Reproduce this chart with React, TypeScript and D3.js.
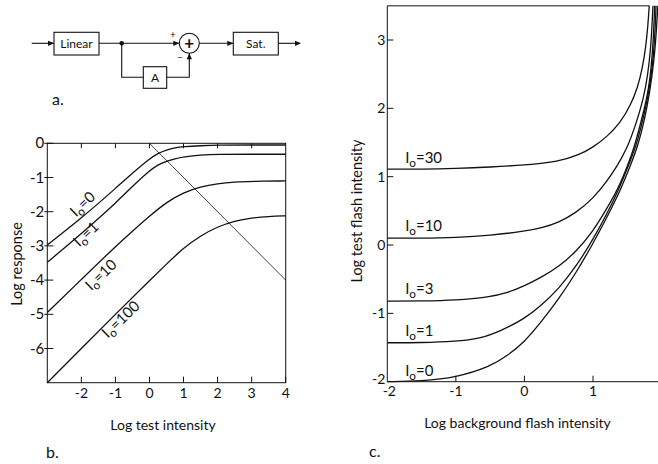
import React from "react";
import * as d3 from "d3";

type Pt = [number, number];

// ---------- Panel b data (log test intensity vs log response) ----------
const bTicksX = [-2, -1, 0, 1, 2, 3, 4];
const bTopTicks = [-2, -1, 0, 1, 2, 3];
const bTicksY = [0, -1, -2, -3, -4, -5, -6];
const bLevels = ["0", "1", "10", "100"];
const bIo0: Pt[] = [[-3, -2.97], [-2.5, -2.58], [-2, -2.18], [-1.5, -1.76], [-1, -1.32], [-0.5, -0.87], [0, -0.45], [0.25, -0.29], [0.5, -0.19], [0.75, -0.13], [1, -0.1], [1.5, -0.07], [2, -0.05], [3, -0.05], [4, -0.05]];
const bIo1: Pt[] = [[-3, -3.48], [-2.5, -3.06], [-2, -2.64], [-1.5, -2.2], [-1, -1.75], [-0.5, -1.26], [0, -0.8], [0.25, -0.63], [0.5, -0.52], [0.75, -0.45], [1, -0.4], [1.5, -0.34], [2, -0.32], [3, -0.32], [4, -0.32]];
const bIo10: Pt[] = [[-3, -4.95], [-2, -3.98], [-1, -3.02], [-0.5, -2.57], [0, -2.13], [0.5, -1.72], [1, -1.44], [1.5, -1.27], [2, -1.18], [2.5, -1.13], [3, -1.11], [4, -1.1]];
const bIo100: Pt[] = [[-3, -7], [-2, -6], [-1, -5], [0, -4.02], [0.5, -3.53], [1, -3.06], [1.5, -2.7], [2, -2.44], [2.5, -2.27], [3, -2.18], [3.5, -2.14], [4, -2.12]];
const bDiagonal: Pt[] = [[0, 0], [4, -4]];
const bLabelAnchors: Pt[] = [[-1.94, -1.8], [-1.84, -2.68], [-1.4, -3.87], [-0.82, -5.17]];

// ---------- Panel c data (log background vs log test flash intensity) ----------
const cTicksX = [-2, -1, 0, 1];
const cTicksY = [-2, -1, 0, 1, 2, 3];
const cLevels = ["30", "10", "3", "1", "0"];
const cIo30: Pt[] = [[-2, 1.11], [-1.5, 1.11], [-1, 1.12], [-0.5, 1.14], [0, 1.17], [0.5, 1.22], [0.8, 1.32], [1, 1.43], [1.2, 1.58], [1.4, 1.79], [1.55, 2.05], [1.65, 2.3], [1.72, 2.58], [1.77, 2.9], [1.8, 3.2], [1.82, 3.5]];
const cIo10: Pt[] = [[-2, 0.1], [-1.5, 0.1], [-1, 0.11], [-0.5, 0.14], [0, 0.2], [0.25, 0.25], [0.5, 0.33], [0.75, 0.47], [1, 0.68], [1.2, 0.93], [1.35, 1.15], [1.5, 1.42], [1.62, 1.75], [1.74, 2.15], [1.8, 2.5], [1.84, 2.86], [1.86, 3.2], [1.875, 3.5]];
const cIo3: Pt[] = [[-2, -0.82], [-1.5, -0.82], [-1, -0.81], [-0.5, -0.76], [-0.25, -0.7], [0, -0.6], [0.25, -0.47], [0.5, -0.32], [0.75, -0.1], [1, 0.2], [1.2, 0.53], [1.37, 0.83], [1.5, 1.15], [1.6, 1.42], [1.7, 1.8], [1.8, 2.2], [1.85, 2.6], [1.88, 3.0], [1.9, 3.5]];
const cIo1: Pt[] = [[-2, -1.43], [-1.5, -1.43], [-1, -1.41], [-0.65, -1.37], [-0.35, -1.26], [0, -1.08], [0.25, -0.88], [0.5, -0.64], [0.75, -0.32], [1, 0.08], [1.2, 0.45], [1.38, 0.82], [1.52, 1.17], [1.63, 1.45], [1.72, 1.8], [1.81, 2.2], [1.87, 2.65], [1.9, 3.0], [1.92, 3.5]];
const cIo0: Pt[] = [[-2, -2.0], [-1.5, -1.99], [-1, -1.94], [-0.5, -1.78], [-0.25, -1.62], [0, -1.42], [0.25, -1.12], [0.5, -0.79], [0.75, -0.41], [1, 0.02], [1.2, 0.4], [1.4, 0.8], [1.55, 1.17], [1.66, 1.47], [1.75, 1.82], [1.83, 2.25], [1.89, 2.7], [1.92, 3.05], [1.945, 3.5]];
const cLabelAnchors: Pt[] = [[-1.74, 1.2], [-1.74, 0.21], [-1.74, -0.72], [-1.74, -1.33], [-1.74, -1.92]];

const FONT = "Lato, 'Noto Sans', sans-serif";

function IoLabel({ value, fs }: { value: string; fs: number }) {
  return (
    <>
      I
      <tspan dy={fs * 0.28} fontSize={fs * 0.78}>o</tspan>
      <tspan dy={-fs * 0.28}>={value}</tspan>
    </>
  );
}

function arrowRight(x: number, y: number) {
  return `${x},${y} ${x - 6},${y - 2.6} ${x - 6},${y + 2.6}`;
}
function arrowUp(x: number, y: number) {
  return `${x},${y} ${x - 2.6},${y + 6} ${x + 2.6},${y + 6}`;
}

export default function App() {
  // scales panel b
  const xb = d3.scaleLinear().domain([-3, 4]).range([47.3, 285.7]);
  const yb = d3.scaleLinear().domain([-7, 0]).range([382.7, 143.3]);
  const lineB = d3.line<Pt>().x((d) => xb(d[0])).y((d) => yb(d[1])).curve(d3.curveBasis);
  const lineBStraight = d3.line<Pt>().x((d) => xb(d[0])).y((d) => yb(d[1]));
  const bCurves = [bIo0, bIo1, bIo10, bIo100];

  // scales panel c
  const xc = d3.scaleLinear().domain([-2, 1]).range([387.3, 593]);
  const yc = d3.scaleLinear().domain([-2, 3]).range([381.7, 40]);
  const lineC = d3.line<Pt>().x((d) => xc(d[0])).y((d) => yc(d[1])).curve(d3.curveBasis);
  const cCurves = [cIo30, cIo10, cIo3, cIo1, cIo0];
  const cTop = 3.5;

  const stroke = "#111";

  return (
    <svg
      width={658}
      height={464}
      style={{ position: "absolute", left: 0, top: 0, background: "#fff" }}
      fontFamily={FONT}
    >
      {/* ---------------- Panel a: block diagram ---------------- */}
      <g stroke={stroke} strokeWidth={1.1} fill="none">
        <line x1={31.7} y1={43.3} x2={54} y2={43.3} />
        <rect x={54} y={32.3} width={45} height={22.7} />
        <line x1={99} y1={43.3} x2={179.3} y2={43.3} />
        <circle cx={189.3} cy={43.3} r={10} />
        <polyline points="121.7,43.3 121.7,77.3 143.3,77.3" />
        <rect x={143.3} y={66.7} width={23.4} height={21.6} />
        <polyline points="166.7,77.3 189.3,77.3 189.3,53.3" />
        <line x1={199.3} y1={43.3} x2={233.3} y2={43.3} />
        <rect x={233.3} y={32.3} width={45} height={22.7} />
        <line x1={278.3} y1={43.3} x2={300} y2={43.3} />
      </g>
      <g fill={stroke}>
        <circle cx={121.7} cy={43.3} r={2.3} />
        <polygon points={arrowRight(54, 43.3)} />
        <polygon points={arrowRight(179.3, 43.3)} />
        <polygon points={arrowUp(189.3, 53.3)} />
        <polygon points={arrowRight(233.3, 43.3)} />
        <polygon points={arrowRight(301, 43.3)} />
      </g>
      <g fontSize={12} fill={stroke} textAnchor="middle">
        <text x={76.5} y={48}>Linear</text>
        <text x={155} y={82}>A</text>
        <text x={255.8} y={48}>Sat.</text>
        <text x={189.3} y={49} fontSize={17} fontWeight="bold">+</text>
        <text x={173} y={38} fontSize={10}>+</text>
        <text x={180} y={61} fontSize={10}>−</text>
      </g>
      <text x={52} y={105} fontSize={16} fill={stroke}>a.</text>

      {/* ---------------- Panel b ---------------- */}
      <g stroke={stroke} strokeWidth={1} fill="none">
        <rect x={xb(-3)} y={yb(0)} width={xb(4) - xb(-3)} height={yb(-7) - yb(0)} />
        {bTopTicks.map((t) => (
          <line key={"bt" + t} x1={xb(t)} x2={xb(t)} y1={yb(0)} y2={yb(0) + 5} />
        ))}
        {bTicksX.map((t) => (
          <line key={"bx" + t} x1={xb(t)} x2={xb(t)} y1={yb(-7)} y2={yb(-7) - 6} />
        ))}
        {bTicksY.map((t) => (
          <line key={"by" + t} x1={xb(-3) - 3} x2={xb(-3) + 6} y1={yb(t)} y2={yb(t)} />
        ))}
      </g>
      <path d={lineBStraight(bDiagonal) || ""} stroke={stroke} strokeWidth={0.8} fill="none" />
      {bCurves.map((c, i) => (
        <path key={"bc" + i} d={lineB(c) || ""} stroke={stroke} strokeWidth={1.3} fill="none" />
      ))}
      <g fontSize={15} fill={stroke}>
        {bTicksY.map((t) => (
          <text key={"byl" + t} x={xb(-3) - 3} y={yb(t) + 5} textAnchor="end">
            {t === 0 ? "0" : "-" + Math.abs(t)}
          </text>
        ))}
      </g>
      <g fontSize={14} fill={stroke}>
        {bTicksX.map((t) => (
          <text key={"bxl" + t} x={xb(t)} y={yb(-7) + 15} textAnchor="middle">
            {t < 0 ? "-" + Math.abs(t) : String(t)}
          </text>
        ))}
      </g>
      {bLevels.map((lv, i) => (
        <text
          key={"bl" + lv}
          transform={`translate(${xb(bLabelAnchors[i][0])},${yb(bLabelAnchors[i][1])}) rotate(-44)`}
          textAnchor="middle"
          dominantBaseline="middle"
          fontSize={15}
          fill={stroke}
        >
          <IoLabel value={lv} fs={15} />
        </text>
      ))}
      <text
        transform={`translate(22,264) rotate(-90)`}
        textAnchor="middle"
        fontSize={14.5}
        fill={stroke}
      >
        Log response
      </text>
      <text x={163} y={430} textAnchor="middle" fontSize={14} fill={stroke}>
        Log test intensity
      </text>
      <text x={46} y={458} fontSize={16} fill={stroke}>b.</text>

      {/* ---------------- Panel c ---------------- */}
      <g stroke={stroke} strokeWidth={1} fill="none">
        <line x1={xc(-2)} x2={xc(-2)} y1={yc(-2)} y2={yc(cTop)} />
        <line x1={xc(-2)} x2={xc(cIo30[cIo30.length - 1][0])} y1={yc(cTop)} y2={yc(cTop)} />
        <line x1={xc(-2)} x2={658} y1={yc(-2)} y2={yc(-2)} />
        {cTicksY.filter((t) => t > -2).map((t) => (
          <line key={"cy" + t} x1={xc(-2)} x2={xc(-2) + 6} y1={yc(t)} y2={yc(t)} />
        ))}
        {cTicksX.filter((t) => t > -2).map((t) => (
          <line key={"cx" + t} x1={xc(t)} x2={xc(t)} y1={yc(-2)} y2={yc(-2) - 6} />
        ))}
      </g>
      {cCurves.map((c, i) => (
        <path key={"cc" + i} d={lineC(c) || ""} stroke={stroke} strokeWidth={1.3} fill="none" />
      ))}
      <g fontSize={14} fill={stroke}>
        {cTicksY.map((t) => (
          <text key={"cyl" + t} x={xc(-2) - 2} y={yc(t) + (t === -2 ? 2 : 5)} textAnchor="end">
            {t < 0 ? "-" + Math.abs(t) : String(t)}
          </text>
        ))}
        {cTicksX.map((t) => (
          <text key={"cxl" + t} x={xc(t) + (t === -2 ? 2 : 0)} y={yc(-2) + 14} textAnchor="middle">
            {t < 0 ? "-" + Math.abs(t) : String(t)}
          </text>
        ))}
      </g>
      {cLevels.map((lv, i) => (
        <text key={"cl" + lv} x={xc(cLabelAnchors[i][0])} y={yc(cLabelAnchors[i][1])} fontSize={15} fill={stroke}>
          <IoLabel value={lv} fs={15} />
        </text>
      ))}
      <text
        transform={`translate(362,211) rotate(-90)`}
        textAnchor="middle"
        fontSize={14.5}
        fill={stroke}
      >
        Log test flash intensity
      </text>
      <text x={517.5} y={428} textAnchor="middle" fontSize={14} fill={stroke}>
        Log background flash intensity
      </text>
      <text x={369} y={457} fontSize={16} fill={stroke}>c.</text>
    </svg>
  );
}
